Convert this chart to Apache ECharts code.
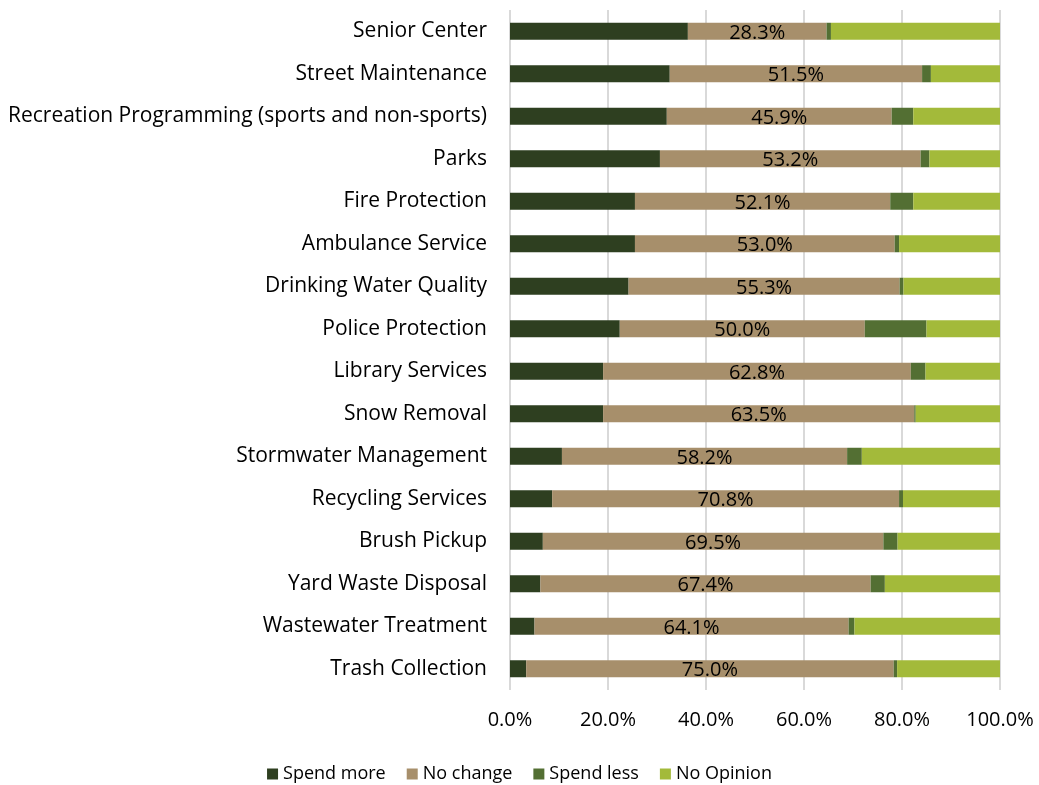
<!DOCTYPE html>
<html>
<head>
<meta charset="UTF-8">
<title>Spending priorities</title>
<script src="https://cdn.jsdelivr.net/npm/echarts@6/dist/echarts.min.js"></script>
<style>
  html, body { margin: 0; padding: 0; background: #fff; }
  #main { width: 1039px; height: 785px; }
</style>
</head>
<body>
<div id="main"></div>
<script>
// categories, top to bottom
var services = ['Senior Center', 'Street Maintenance', 'Recreation Programming (sports and non-sports)',
    'Parks', 'Fire Protection', 'Ambulance Service', 'Drinking Water Quality', 'Police Protection',
    'Library Services', 'Snow Removal', 'Stormwater Management', 'Recycling Services',
    'Brush Pickup', 'Yard Waste Disposal', 'Wastewater Treatment', 'Trash Collection'];

var spendMore = [36.3, 32.6, 32.0, 30.6, 25.5, 25.5, 24.2, 22.4, 19.0, 19.0, 10.6, 8.6, 6.7, 6.2, 5.0, 3.3];
var noChange  = [28.3, 51.5, 45.9, 53.2, 52.1, 53.0, 55.3, 50.0, 62.8, 63.5, 58.2, 70.8, 69.5, 67.4, 64.1, 75.0];
var spendLess = [0.9, 1.8, 4.4, 1.8, 4.7, 0.9, 0.8, 12.6, 3.0, 0.3, 3.0, 0.8, 2.9, 2.9, 1.2, 0.7];
var noOpinion = [34.5, 14.1, 17.7, 14.4, 17.7, 20.6, 19.7, 15.0, 15.2, 17.2, 28.2, 19.8, 20.9, 23.5, 29.7, 21.0];

var xTicks = [0, 20, 40, 60, 80, 100];

var font = 'Open Sans';

function mkSeries(name, data, color, withLabel) {
    return {
        name: name,
        type: 'bar',
        stack: 'total',
        barWidth: 17,
        itemStyle: { color: color },
        label: {
            show: withLabel,
            position: 'inside',
            color: '#000',
            fontFamily: font,
            fontSize: 20,
            offset: [0, 2],
            formatter: function (p) { return p.value.toFixed(1) + '%'; }
        },
        emphasis: { disabled: true },
        data: data
    };
}

var chart = echarts.init(document.getElementById('main'));
chart.setOption({
    backgroundColor: '#fff',
    animation: false,
    grid: { left: 510, right: 39, top: 10, height: 680 },
    legend: {
        top: 760,
        left: 'center',
        icon: 'rect',
        itemWidth: 11,
        itemHeight: 11,
        itemGap: 21,
        textStyle: { fontFamily: font, fontSize: 18, color: '#000' },
        data: ['Spend more', 'No change', 'Spend less', 'No Opinion']
    },
    xAxis: {
        type: 'value',
        min: xTicks[0],
        max: xTicks[xTicks.length - 1],
        interval: 20,
        axisLine: { show: false },
        axisTick: { show: false },
        splitLine: { lineStyle: { color: '#d9d9d9', width: 2 } },
        axisLabel: {
            margin: 20,
            fontFamily: font,
            fontSize: 20,
            color: '#000',
            formatter: function (v) { return v.toFixed(1) + '%'; }
        }
    },
    yAxis: {
        type: 'category',
        inverse: true,
        data: services,
        axisLine: { show: false },
        axisTick: { show: false },
        axisLabel: { margin: 23, fontFamily: font, fontSize: 21, color: '#000' }
    },
    series: [
        mkSeries('Spend more', spendMore, '#2e3f20', false),
        mkSeries('No change', noChange, '#a78f6b', true),
        mkSeries('Spend less', spendLess, '#536f33', false),
        mkSeries('No Opinion', noOpinion, '#a3ba3a', false)
    ]
});
</script>
</body>
</html>
